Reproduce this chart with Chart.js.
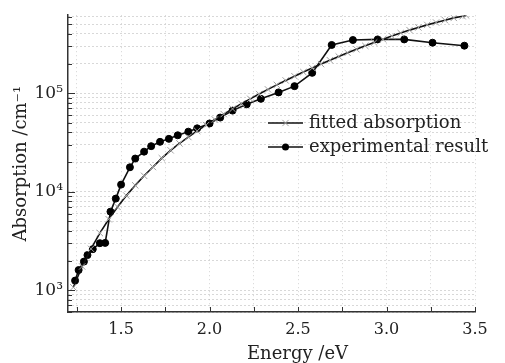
<!DOCTYPE html>
<html>
<head>
<meta charset="utf-8">
<script src="https://cdn.jsdelivr.net/npm/chart.js@4.4.0/dist/chart.umd.min.js"></script>
<style>
  body { margin: 0; background: #fff; }
  #wrap { width: 505px; height: 363px; }
</style>
</head>
<body>
<div id="wrap"><canvas id="myChart"></canvas></div>
<script>
var expEnergy = [1.24, 1.26, 1.29, 1.31, 1.34, 1.38, 1.41, 1.44, 1.47, 1.50,
                 1.55, 1.58, 1.63, 1.67, 1.72, 1.77, 1.82, 1.88, 1.93, 2.00,
                 2.06, 2.13, 2.21, 2.29, 2.39, 2.48, 2.58, 2.69, 2.81, 2.95,
                 3.10, 3.26, 3.44];
var expAbs = [1250, 1600, 1950, 2270, 2610, 3000, 3020, 6270, 8510, 11800,
              17700, 21700, 25500, 29000, 32100, 34400, 37400, 40700, 44000, 49300,
              56600, 66600, 77100, 87700, 102000, 118000, 161000, 309000, 347000, 352000,
              352000, 326000, 304000];

// fitted absorption
var fitEnergy = [1.23, 1.28, 1.33, 1.38, 1.43, 1.48, 1.53, 1.58, 1.63, 1.68,
                 1.73, 1.78, 1.83, 1.88, 1.93, 1.98, 2.03, 2.08, 2.13, 2.18,
                 2.23, 2.28, 2.33, 2.38, 2.43, 2.48, 2.53, 2.58, 2.63, 2.68,
                 2.73, 2.78, 2.83, 2.88, 2.93, 2.98, 3.03, 3.08, 3.13, 3.18,
                 3.23, 3.28, 3.33, 3.38, 3.43, 3.45];
var fitAbs = [1070, 1740, 2630, 3800, 5250, 7000, 9120, 11600, 14500, 17800,
              21900, 26300, 30900, 35900, 41400, 47500, 54100, 61400, 69300, 78200,
              87700, 98200, 109400, 121600, 134900, 148900, 164100, 180300, 197700, 216300,
              236000, 257000, 279300, 302700, 327300, 353200, 380200, 408300, 437500, 465600,
              494300, 522400, 552100, 582100, 605300, 616600];

var xTicks = [1.25, 1.5, 1.75, 2.0, 2.25, 2.5, 2.75, 3.0, 3.25, 3.5];
var xLabels = ['', '1.5', '', '2.0', '', '2.5', '', '3.0', '', '3.5'];
var yDecades = [100, 1000, 10000, 100000];
var yLabels = {1000: '10\u00b3', 10000: '10\u2074', 100000: '10\u2075'};

var yMin = 600, yMax = 620000;
var serif = '"DejaVu Serif", serif';

function toPoints(xs, ys) {
  return xs.map(function(x, i) { return {x: x, y: ys[i]}; });
}

// inward tick marks, x title and the legend inside the plot
var axisExtras = {
  id: 'axisExtras',
  afterDraw: function(chart) {
    var ctx = chart.ctx, area = chart.chartArea;
    var xs = chart.scales.x, ys = chart.scales.y;
    ctx.save();
    ctx.strokeStyle = '#333';
    ctx.lineWidth = 1;
    ys.ticks.forEach(function(t) {
      var y = Math.round(ys.getPixelForValue(t.value)) + 0.5;
      var len = yLabels[t.value] ? 7 : 4;
      ctx.beginPath();
      ctx.moveTo(area.left, y);
      ctx.lineTo(area.left + len, y);
      ctx.stroke();
    });
    xs.ticks.forEach(function(t) {
      var x = Math.round(xs.getPixelForValue(t.value)) + 0.5;
      ctx.beginPath();
      ctx.moveTo(x, area.bottom);
      ctx.lineTo(x, area.bottom - 5);
      ctx.stroke();
    });

    ctx.fillStyle = '#222';
    ctx.font = '18px ' + serif;
    ctx.textAlign = 'center';
    ctx.textBaseline = 'middle';
    ctx.fillText('Energy /eV', (area.left + area.right) / 2 + 26, 354);

    // legend
    var lx0 = 268, lx1 = 303, ly = 123;
    var cx = (lx0 + lx1) / 2;
    ctx.textAlign = 'left';
    chart.data.datasets.forEach(function(ds, i) {
      var y = ly + i * 24;
      ctx.strokeStyle = ds.borderColor;
      ctx.lineWidth = ds.borderWidth;
      ctx.beginPath();
      ctx.moveTo(lx0, y);
      ctx.lineTo(lx1, y);
      ctx.stroke();
      ctx.fillStyle = ds.pointBackgroundColor;
      ctx.strokeStyle = ds.pointBorderColor;
      ctx.lineWidth = ds.pointBorderWidth;
      ctx.beginPath();
      if (ds.pointStyle === 'circle') {
        ctx.arc(cx, y, ds.pointRadius, 0, Math.PI * 2);
        ctx.fill();
      } else {
        var r = ds.pointRadius * 0.7;
        ctx.moveTo(cx - r, y - r); ctx.lineTo(cx + r, y + r);
        ctx.moveTo(cx - r, y + r); ctx.lineTo(cx + r, y - r);
        ctx.stroke();
      }
      ctx.fillStyle = '#222';
      ctx.fillText(ds.label, 309, y);
    });
    ctx.restore();
  }
};

var ctx = document.getElementById('myChart').getContext('2d');
var myChart = new Chart(ctx, {
  type: 'line',
  data: {
    datasets: [{
      label: 'fitted absorption',
      data: toPoints(fitEnergy, fitAbs),
      borderColor: '#111',
      borderWidth: 1.6,
      pointStyle: 'crossRot',
      pointRadius: 4.5,
      pointBorderWidth: 1,
      pointBorderColor: '#a0a0a0',
      pointBackgroundColor: '#a0a0a0',
      tension: 0
    }, {
      label: 'experimental result',
      data: toPoints(expEnergy, expAbs),
      borderColor: '#111',
      borderWidth: 1.6,
      pointStyle: 'circle',
      pointRadius: 3.5,
      pointBorderWidth: 1,
      pointBorderColor: '#000',
      pointBackgroundColor: '#000',
      tension: 0
    }]
  },
  options: {
    responsive: true,
    maintainAspectRatio: false,
    animation: false,
    layout: { padding: { left: 0, top: 10, right: 30, bottom: 0 } },
    plugins: {
      legend: { display: false },
      tooltip: { enabled: false }
    },
    scales: {
      x: {
        type: 'linear',
        min: 1.2,
        max: 3.5,
        afterBuildTicks: function(scale) {
          scale.ticks = xTicks.map(function(v) { return {value: v}; });
        },
        afterFit: function(scale) { scale.height = 51; },
        grid: { color: '#d4d4d4', lineWidth: 1, drawTicks: false },
        border: { display: true, color: '#333', width: 1.5, dash: [1, 3] },
        ticks: {
          autoSkip: false,
          maxRotation: 0,
          padding: 8,
          color: '#222',
          font: { family: serif, size: 16 },
          callback: function(v) {
            var i = xTicks.indexOf(v);
            return i >= 0 ? xLabels[i] : '';
          }
        }
      },
      y: {
        type: 'logarithmic',
        min: yMin,
        max: yMax,
        afterBuildTicks: function(scale) {
          var t = [];
          yDecades.forEach(function(d) {
            for (var m = 1; m <= 9; m++) {
              var v = d * m;
              if (v >= yMin && v <= yMax) t.push({value: v});
            }
          });
          scale.ticks = t;
        },
        afterFit: function(scale) { scale.width = 68; },
        grid: { color: '#b0b0b0', lineWidth: 1, drawTicks: false },
        border: { display: true, color: '#333', width: 1.5, dash: [1, 3] },
        title: {
          display: true,
          text: 'Absorption /cm\u207b\u00b9',
          color: '#222',
          font: { family: serif, size: 18 },
          padding: { top: 11, bottom: 0 }
        },
        ticks: {
          autoSkip: false,
          padding: 5,
          color: '#222',
          font: { family: serif, size: 17 },
          callback: function(v) { return yLabels[v] || ''; }
        }
      }
    }
  },
  plugins: [axisExtras]
});
</script>
</body>
</html>
